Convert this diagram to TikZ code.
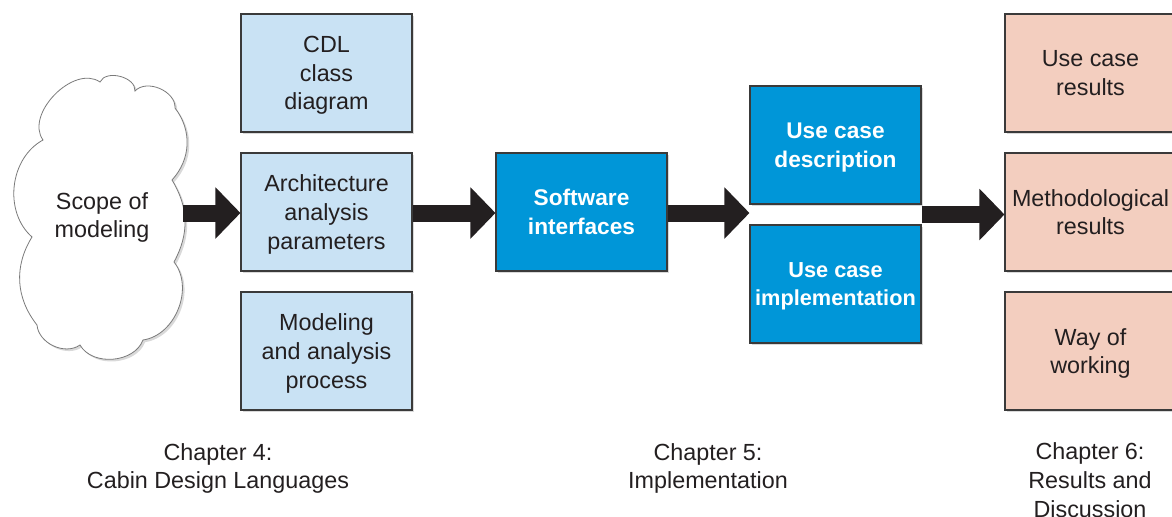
\documentclass[tikz,border=0pt]{standalone}
\usepackage{fontspec}
\setmainfont{Liberation Sans}
\usetikzlibrary{arrows.meta,shadows,calc}
\definecolor{lblue}{HTML}{C9E2F4}
\definecolor{dblue}{HTML}{0096D8}
\definecolor{pinkbox}{HTML}{F3CEBF}
\definecolor{ink}{HTML}{231F20}
\definecolor{edgegray}{HTML}{3A3A3A}
\definecolor{cloudgray}{HTML}{7A7A7A}
\begin{document}
\begin{tikzpicture}[x=0.75pt,y=-0.75pt,
  txt/.style={font=\fontsize{17.5}{21.5}\selectfont, text=ink, align=center, text depth=0pt},
  box/.style={txt, text depth=-3pt, draw=edgegray, line width=0.8pt, minimum width=128.25pt, minimum height=88.5pt, inner sep=0pt,
    drop shadow={opacity=0.3, shadow xshift=1.6pt, shadow yshift=-1.6pt}},
  lbox/.style={box, fill=lblue},
  bbox/.style={box, fill=dblue, text=white, font=\fontsize{17}{21.5}\selectfont\bfseries},
  pbox/.style={box, fill=pinkbox},
  arr/.style={draw=ink, line width=12.75pt, -{Triangle[width=37.5pt,length=18.75pt]}},
  cloudline/.style={draw=cloudgray, line width=0.6pt, fill=white, drop shadow={opacity=0.3, shadow xshift=1.6pt, shadow yshift=-1.6pt}}
]
\useasboundingbox (0,0) rectangle (1172,517);
\clip (0,0) rectangle (1172,517);

% cloud
\draw[cloudline] (43,140) coordinate (cA)
  to[bend left=80] (100,82) coordinate (cB)
  to[bend left=80] (135,91) coordinate (cC)
  to[bend left=70] (175,108) coordinate (cD)
  to[bend left=40] (172,180) coordinate (cE)
  to[bend left=30] (174,262) coordinate (cF)
  to[bend left=60] (143,340) coordinate (cG)
  to[bend left=65] (80,345) coordinate (cH)
  to[bend left=60] (37,325) coordinate (cI)
  to[bend left=35] (32,237) coordinate (cJ)
  to[bend left=55] (43,140) -- cycle;
\node[txt] (scope) at (102,215) {Scope of\\modeling};
\coordinate (cloudR) at (183,213);

% chapter 4 boxes
\node[lbox] (cdl) at (326.5,73) {CDL\\class\\diagram};
\node[lbox] (arch) at (326.5,212) {Architecture\\analysis\\parameters};
\node[lbox] (proc) at (326.5,351) {Modeling\\and analysis\\process};

% chapter 5 boxes
\node[bbox] (swi) at (581.5,212) {Software\\interfaces};
\node[bbox] (ucd) at (835.5,145) {Use case\\description};
\node[bbox, font=\fontsize{16.3}{21.5}\selectfont\bfseries] (uci) at (835.5,284) {Use case\\implementation};
\coordinate (gapW) at ($(ucd.south west)!0.5!(uci.north west)$);
\coordinate (gapE) at ($(ucd.south east)!0.5!(uci.north east)$);

% chapter 6 boxes
\node[pbox] (ucr) at (1090.5,73) {Use case\\results};
\node[pbox] (meth) at (1090.5,212) {Methodological\\results};
\node[pbox] (way) at (1090.5,351) {Way of\\working};

% arrows
\draw[arr] (cloudR) -- (cloudR -| arch.west);
\draw[arr] ($(arch.east)+(0,1)$) -- ($(swi.west)+(0,1)$);
\draw[arr] ($(swi.east)+(0,1)$) -- ($(swi.east -| gapW)+(0,1)$);
\draw[arr] (gapE) -- (gapE -| meth.west);

% chapter labels
\node[txt] (ch4) at (218,466) {Chapter 4:\\Cabin Design Languages};
\node[txt] (ch5) at (708,466) {Chapter 5:\\Implementation};
\node[txt] (ch6) at (1090,480) {Chapter 6:\\Results and\\Discussion};
\end{tikzpicture}
\end{document}
